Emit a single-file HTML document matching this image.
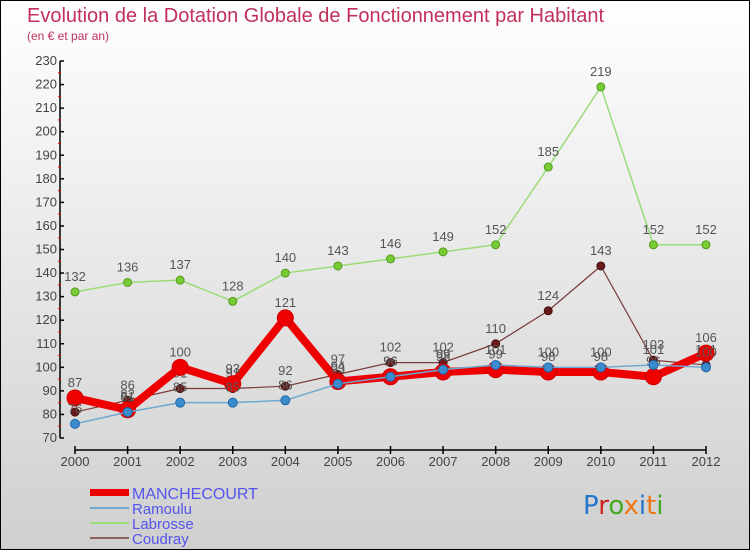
<!DOCTYPE html>
<html><head><meta charset="utf-8"><style>
body{margin:0;width:750px;height:550px;overflow:hidden}
svg{display:block;font-family:"Liberation Sans",sans-serif}
</style></head><body>
<svg width="750" height="550">
<defs><linearGradient id="bg" x1="0" y1="0" x2="0" y2="1"><stop offset="0" stop-color="#ffffff"/><stop offset="1" stop-color="#cfcfcf"/></linearGradient></defs>
<rect x="0.5" y="0.5" width="749" height="549" fill="url(#bg)" stroke="#000"/>
<text x="27" y="22" font-size="20" fill="#c0305a">Evolution de la Dotation Globale de Fonctionnement par Habitant</text>
<text x="27" y="40" font-size="12" fill="#c0305a">(en € et par an)</text>
<g id="axes"></g>
<g id="series"></g>
<g>
<rect x="90" y="489" width="39" height="7" fill="#ee0000"/>
<text x="132" y="499" font-size="16" fill="#5555ee">MANCHECOURT</text>
<rect x="90" y="507" width="39" height="2" fill="#6fa8d0"/>
<text x="132" y="514" font-size="15" fill="#5555ee">Ramoulu</text>
<rect x="90" y="522" width="39" height="2" fill="#99dd77"/>
<text x="132" y="529" font-size="15" fill="#5555ee">Labrosse</text>
<rect x="90" y="537" width="39" height="2" fill="#8a6060"/>
<text x="132" y="544" font-size="15" fill="#5555ee">Coudray</text>
</g>
<g font-size="26" font-family="'DejaVu Sans',sans-serif">
<text x="583" y="514"><tspan fill="#2277cc">P</tspan><tspan fill="#cc2222">r</tspan><tspan fill="#44aa22">o</tspan><tspan fill="#ee7711">x</tspan><tspan fill="#2277cc">i</tspan><tspan fill="#ee7711">t</tspan><tspan fill="#44aa22">i</tspan></text>
</g>
</svg>
<script>
const years=["2000","2001","2002","2003","2004","2005","2006","2007","2008","2009","2010","2011","2012"];
const yTicks=[70,80,90,100,110,120,130,140,150,160,170,180,190,200,210,220,230];
const manchecourt=[87,82,100,93,121,94,96,98,99,98,98,96,106];
const ramoulu=[76,81,85,85,86,93,96,99,101,100,100,101,100];
const labrosse=[132,136,137,128,140,143,146,149,152,185,219,152,152];
const coudray=[81,86,91,91,92,97,102,102,110,124,143,103,101];
const NS="http://www.w3.org/2000/svg";
const X=i=>75+i*(706-75)/(years.length-1);
const Y=v=>438-(v-70)*(438-61)/160;
function mk(tag,attrs,parent,text){const e=document.createElementNS(NS,tag);for(const k in attrs)e.setAttribute(k,attrs[k]);if(text!==undefined)e.textContent=text;parent.appendChild(e);return e;}
const ax=document.getElementById('axes');
const yl=mk('line',{x1:60,y1:61,x2:60,y2:438,stroke:'#000','stroke-width':1.5},ax);


yTicks.forEach((t,i)=>{
 mk('line',{x1:60,y1:Y(t),x2:64,y2:Y(t),stroke:'#000','stroke-width':1.5},ax);
 if(i<yTicks.length-1) mk('line',{x1:58,y1:Y(t+5),x2:61,y2:Y(t+5),stroke:'#e00','stroke-width':1},ax);
 const tl=mk('text',{x:57,y:Y(t)+4,'text-anchor':'end','font-size':13,fill:'#444'},ax,String(t));
 
 
});
const xl=mk('line',{x1:75,y1:450,x2:706,y2:450,stroke:'#000','stroke-width':1.5},ax);


years.forEach((y,i)=>{
 mk('line',{x1:X(i),y1:446,x2:X(i),y2:454,stroke:'#000','stroke-width':1.5},ax);
 const tl=mk('text',{x:X(i),y:466,'text-anchor':'middle','font-size':13,fill:'#444'},ax,y);
 
 
});
const sg=document.getElementById('series');
function draw(name,vals,color,w,r,pfill,pstroke){
 const g=mk('g',{},sg);
 
 
 const pl=mk('polyline',{points:vals.map((v,i)=>X(i)+','+Y(v)).join(' '),fill:'none',stroke:color,'stroke-width':w,'stroke-linejoin':'round'},g);
 
 
 vals.forEach((v,i)=>{
  const c=mk('circle',{cx:X(i),cy:Y(v),r:r,fill:pfill,stroke:pstroke,'stroke-width':1},g);
  
  
  const t=mk('text',{x:X(i),y:Y(v)-11,'text-anchor':'middle','font-size':13,fill:'#555'},g,String(v));
  
  
 });
}
draw('labrosse',labrosse,'#99dd77',1.5,4,'#77cc33','#559922');
draw('coudray',coudray,'#7a3a3a',1.2,4,'#6a1a1a','#441010');
draw('manchecourt',manchecourt,'#ee0000',8,8,'#ee0000','#cc0000');
draw('ramoulu',ramoulu,'#6fa8d0',1.5,4.5,'#3a8ccc','#2266aa');
</script>
</body></html>
